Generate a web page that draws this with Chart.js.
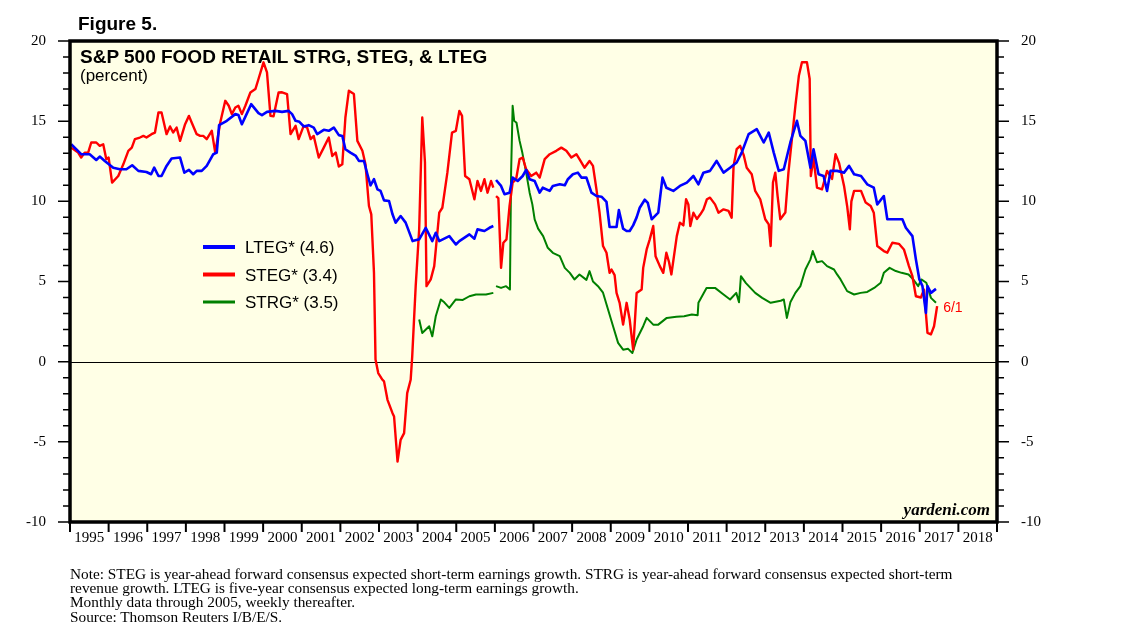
<!DOCTYPE html>
<html>
<head>
<meta charset="utf-8">
<script src="https://cdn.jsdelivr.net/npm/chart.js@4.4.1/dist/chart.umd.min.js"></script>
<style>
  html, body { margin: 0; padding: 0; background: #fff; }
  #wrap { position: relative; width: 1138px; height: 627px; overflow: hidden; }
  #chart { position: absolute; left: 0; top: 0; }
  .txt { position: absolute; white-space: nowrap; color: #000; line-height: 1; }
  #fig   { left: 78px; top: 13px; font: bold 19px "Liberation Sans", Arial, sans-serif; }
  #title { left: 80px; top: 46px; font: bold 19px "Liberation Sans", Arial, sans-serif; }
  #unit  { left: 80px; top: 66px; font: 17px "Liberation Sans", Arial, sans-serif; }
  #notes { left: 70px; top: 567px; font: 15.3px "Liberation Serif", "Times New Roman", serif; line-height: 14.2px; }
</style>
</head>
<body>
<div id="wrap">
  <canvas id="chart" width="1138" height="627"></canvas>
  <div class="txt" id="fig">Figure 5.</div>
  <div class="txt" id="title">S&amp;P 500 FOOD RETAIL STRG, STEG, &amp; LTEG</div>
  <div class="txt" id="unit">(percent)</div>
  <div class="txt" id="notes">Note: STEG is year-ahead forward consensus expected short-term earnings growth. STRG is year-ahead forward consensus expected short-term<br>revenue growth. LTEG is five-year consensus expected long-term earnings growth.<br>Monthly data through 2005, weekly thereafter.<br>Source: Thomson Reuters I/B/E/S.</div>
</div>
<script>
// valeurs (annee decimale, pourcentage)
const ltegYears = [1995.03,1995.29,1995.51,1995.68,1995.77,1995.90,1996.12,1996.29,1996.46,1996.61,1996.77,1996.98,1997.10,1997.18,1997.29,1997.37,1997.50,1997.63,1997.85,1997.96,1998.08,1998.19,1998.28,1998.41,1998.54,1998.71,1998.80,1998.86,1999.06,1999.28,1999.36,1999.45,1999.55,1999.69,1999.88,1999.97,2000.10,2000.32,2000.49,2000.66,2000.75,2000.84,2000.94,2001.05,2001.18,2001.31,2001.40,2001.57,2001.70,2001.83,2001.96,2002.05,2002.13,2002.26,2002.40,2002.48,2002.61,2002.70,2002.78,2002.87,2002.96,2003.04,2003.13,2003.26,2003.35,2003.43,2003.56,2003.69,2003.87,2004.04,2004.21,2004.38,2004.47,2004.56,2004.82,2004.99,2005.08,2005.34,2005.47,2005.55,2005.73,2005.86,2005.96,2006.00,2006.03,2006.16,2006.25,2006.38,2006.46,2006.59,2006.72,2006.81,2006.90,2007.03,2007.16,2007.24,2007.42,2007.50,2007.68,2007.81,2007.89,2008.02,2008.15,2008.24,2008.37,2008.50,2008.63,2008.76,2008.89,2008.97,2009.15,2009.21,2009.32,2009.41,2009.49,2009.58,2009.67,2009.75,2009.88,2009.96,2010.06,2010.23,2010.34,2010.44,2010.62,2010.79,2010.97,2011.14,2011.27,2011.40,2011.57,2011.74,2011.92,2012.09,2012.26,2012.39,2012.57,2012.78,2012.96,2013.09,2013.22,2013.35,2013.48,2013.65,2013.82,2013.91,2014.04,2014.17,2014.25,2014.38,2014.51,2014.60,2014.69,2014.86,2015.04,2015.17,2015.30,2015.48,2015.64,2015.81,2015.90,2016.07,2016.16,2016.33,2016.55,2016.64,2016.81,2016.90,2016.99,2017.07,2017.16,2017.20,2017.29,2017.42];
const ltegValues = [13.56,12.94,12.94,12.58,12.79,12.52,12.10,12.00,12.00,12.25,11.90,11.83,11.69,12.10,11.58,11.58,12.21,12.67,12.73,11.79,11.96,11.69,11.90,11.90,12.21,12.94,13.04,14.75,15.02,15.44,15.38,14.81,15.33,16.06,15.50,15.38,15.58,15.64,15.58,15.64,15.44,15.02,14.96,14.67,14.75,14.60,14.19,14.46,14.40,14.60,14.13,14.08,13.25,13.04,12.83,12.52,12.52,11.69,11.00,11.38,10.75,10.65,10.06,10.02,9.19,8.67,9.08,8.67,7.52,7.63,8.35,7.52,8.04,7.52,7.83,7.31,7.52,7.94,7.67,8.25,8.15,8.35,8.46,null,11.33,10.96,10.44,10.54,11.48,11.27,11.58,11.96,11.38,11.27,10.54,10.85,10.65,10.96,11.06,11.00,11.38,11.69,11.79,11.48,11.48,10.54,10.33,10.29,9.96,8.40,8.40,9.45,8.30,8.15,8.15,8.50,9.00,9.60,10.10,9.90,8.88,9.30,11.48,10.85,10.65,10.96,11.17,11.58,11.06,11.79,11.90,12.52,11.79,12.10,12.42,13.04,14.19,14.50,13.67,14.29,13.04,11.90,12.00,13.67,15.02,14.08,13.77,12.10,13.25,11.69,11.58,10.65,11.90,11.90,11.79,12.21,11.69,11.58,11.06,10.85,9.81,10.33,8.88,8.88,8.88,8.35,7.83,6.38,5.13,4.71,3.04,4.71,4.29,4.54];

const stegYears = [1995.03,1995.21,1995.29,1995.38,1995.47,1995.55,1995.68,1995.77,1995.86,1995.94,1996.00,1996.09,1996.25,1996.38,1996.51,1996.60,1996.68,1996.81,1996.90,1996.98,1997.11,1997.20,1997.29,1997.37,1997.50,1997.59,1997.67,1997.76,1997.85,1997.98,1998.08,1998.15,1998.28,1998.37,1998.45,1998.54,1998.67,1998.76,1998.89,1999.02,1999.11,1999.19,1999.28,1999.36,1999.45,1999.54,1999.67,1999.80,1999.88,2000.01,2000.10,2000.19,2000.27,2000.40,2000.49,2000.62,2000.71,2000.84,2000.92,2001.05,2001.14,2001.23,2001.31,2001.44,2001.57,2001.70,2001.79,2001.88,2001.96,2002.05,2002.13,2002.22,2002.35,2002.44,2002.57,2002.65,2002.74,2002.80,2002.87,2002.91,2002.98,2003.09,2003.13,2003.22,2003.35,2003.39,2003.48,2003.56,2003.65,2003.73,2003.82,2003.86,2003.95,2004.04,2004.12,2004.19,2004.23,2004.34,2004.43,2004.56,2004.64,2004.77,2004.89,2004.99,2005.08,2005.15,2005.23,2005.34,2005.47,2005.55,2005.64,2005.73,2005.81,2005.90,2005.96,2006.00,2006.03,2006.09,2006.16,2006.22,2006.30,2006.38,2006.46,2006.55,2006.64,2006.72,2006.81,2006.94,2007.07,2007.16,2007.29,2007.42,2007.59,2007.72,2007.85,2007.98,2008.11,2008.19,2008.32,2008.45,2008.54,2008.63,2008.71,2008.80,2008.89,2008.97,2009.02,2009.10,2009.15,2009.23,2009.32,2009.41,2009.49,2009.58,2009.67,2009.80,2009.84,2009.93,2010.01,2010.10,2010.16,2010.27,2010.36,2010.44,2010.51,2010.57,2010.71,2010.79,2010.88,2010.95,2011.01,2011.06,2011.14,2011.23,2011.32,2011.40,2011.49,2011.57,2011.70,2011.79,2011.92,2012.05,2012.13,2012.18,2012.26,2012.35,2012.44,2012.52,2012.65,2012.74,2012.87,2013.00,2013.09,2013.14,2013.20,2013.26,2013.32,2013.39,2013.52,2013.60,2013.69,2013.78,2013.87,2013.95,2014.08,2014.15,2014.18,2014.25,2014.34,2014.47,2014.60,2014.73,2014.82,2014.91,2015.04,2015.12,2015.19,2015.23,2015.30,2015.48,2015.60,2015.73,2015.81,2015.90,2016.07,2016.16,2016.29,2016.46,2016.59,2016.72,2016.81,2016.90,2017.03,2017.11,2017.20,2017.29,2017.37,2017.45];
const stegValues = [13.35,13.04,12.73,13.04,13.04,13.67,13.67,13.46,13.56,12.63,12.73,11.17,11.58,12.31,13.15,13.35,13.88,13.98,14.08,13.98,14.19,14.29,15.54,15.54,14.19,14.67,14.29,14.60,13.77,14.81,15.33,14.92,14.19,14.08,14.08,13.88,14.40,13.04,14.92,16.27,15.96,15.44,15.85,15.96,15.44,15.96,16.79,17.00,17.63,18.67,18.04,15.33,15.30,16.79,16.80,16.69,14.19,14.71,13.88,14.71,14.60,13.88,14.08,12.73,13.35,13.98,12.83,13.04,12.17,12.31,15.23,16.90,16.69,13.77,13.15,12.31,9.71,9.19,5.54,0.13,-0.71,-1.13,-1.23,-2.38,-3.21,-3.42,-6.23,-4.88,-4.46,-1.96,-1.13,0.33,4.71,8.25,15.23,12.42,4.71,5.13,5.96,9.29,9.60,11.79,14.29,14.40,15.64,15.33,11.58,11.38,10.13,11.27,10.65,11.38,10.54,11.27,10.85,null,10.33,10.20,5.85,7.42,7.63,9.71,11.17,11.38,12.63,12.73,12.00,11.58,11.79,11.48,12.63,12.94,13.15,13.35,13.15,12.73,12.94,12.63,12.10,12.52,12.21,10.75,9.29,7.21,6.79,5.54,5.75,5.40,4.29,3.67,2.31,3.67,2.63,0.75,4.29,4.50,5.85,7.00,7.63,8.46,6.58,5.96,5.54,6.79,6.20,5.44,7.83,8.67,8.50,10.13,9.80,8.46,9.29,8.90,9.19,9.50,10.13,10.23,9.81,9.29,9.50,9.40,8.98,12.21,13.25,13.46,12.90,12.10,11.69,10.65,10.13,8.88,8.56,7.21,11.17,11.79,10.33,8.88,9.30,11.79,13.88,15.96,17.83,18.67,18.67,17.63,11.58,12.70,10.85,10.75,11.90,11.40,12.94,12.40,10.96,9.71,8.25,10.00,10.65,10.65,9.92,9.71,9.29,7.21,6.90,6.80,7.42,7.35,7.00,5.96,5.33,4.08,4.00,4.50,1.79,1.70,2.21,3.46];

const strgYears = [2004.04,2004.12,2004.30,2004.38,2004.47,2004.60,2004.69,2004.82,2004.99,2005.17,2005.34,2005.51,2005.77,2005.96,2006.00,2006.03,2006.16,2006.29,2006.39,2006.42,2006.46,2006.50,2006.56,2006.64,2006.71,2006.81,2006.90,2006.97,2007.03,2007.12,2007.25,2007.37,2007.50,2007.68,2007.81,2007.94,2008.06,2008.19,2008.37,2008.45,2008.54,2008.67,2008.80,2008.93,2009.06,2009.19,2009.32,2009.45,2009.56,2009.67,2009.84,2009.93,2010.10,2010.23,2010.45,2010.70,2010.90,2011.10,2011.25,2011.27,2011.48,2011.70,2011.92,2012.09,2012.25,2012.32,2012.37,2012.50,2012.74,2012.92,2013.14,2013.40,2013.48,2013.56,2013.65,2013.78,2013.91,2014.04,2014.17,2014.23,2014.34,2014.47,2014.60,2014.78,2014.86,2014.95,2015.12,2015.30,2015.47,2015.64,2015.82,2015.99,2016.07,2016.22,2016.38,2016.53,2016.71,2016.83,2016.96,2017.04,2017.17,2017.29,2017.42];
const strgValues = [2.63,1.79,2.21,1.58,2.83,3.88,3.70,3.35,3.88,3.85,4.08,4.19,4.19,4.29,null,4.71,4.60,4.71,4.50,11.79,15.96,15.02,14.90,13.77,13.04,11.79,10.54,9.81,8.88,8.30,7.83,7.10,6.79,6.58,5.85,5.54,5.13,5.44,5.10,5.65,5.00,4.71,4.30,3.25,2.21,1.17,0.75,0.80,0.54,1.38,2.21,2.73,2.31,2.31,2.73,2.80,2.83,2.94,2.90,3.67,4.60,4.60,4.19,3.88,4.29,3.70,5.33,4.90,4.29,3.98,3.67,3.80,3.88,2.73,3.70,4.29,4.71,5.75,6.38,6.90,6.20,6.27,5.96,5.75,5.44,5.13,4.40,4.19,4.29,4.35,4.60,4.92,5.54,5.85,5.65,5.54,5.44,5.13,4.71,5.13,4.92,3.98,3.67];

const seriesLabels = ['LTEG* (4.6)', 'STEG* (3.4)', 'STRG* (3.5)'];
const seriesColors = ['#0000ff', '#ff0000', '#008000'];
const yearTicks = [1995,1996,1997,1998,1999,2000,2001,2002,2003,2004,2005,2006,2007,2008,2009,2010,2011,2012,2013,2014,2015,2016,2017,2018];
const yTicks = [-10, -5, 0, 5, 10, 15, 20];
const lastLabel = '6/1';

const points = (xs, ys) => xs.map((x, i) => ({ x: x, y: ys[i] }));
const serif = 'Liberation Serif, Times New Roman, serif';
const sans = 'Liberation Sans, Arial, sans-serif';

// fond jaune, bordure, graduations, legende
const decor = {
  id: 'decor',
  beforeDraw(chart) {
    const { ctx, chartArea: a } = chart;
    ctx.save();
    ctx.fillStyle = '#fff';
    ctx.fillRect(0, 0, chart.width, chart.height);
    ctx.fillStyle = '#ffffe6';
    ctx.fillRect(a.left, a.top, a.right - a.left, a.bottom - a.top);
    ctx.restore();
  },
  beforeDatasetsDraw(chart) {
    const { ctx, chartArea: a, scales } = chart;
    const y0 = Math.round(scales.y.getPixelForValue(0)) + 0.5;
    ctx.save();
    ctx.strokeStyle = '#000';
    ctx.lineWidth = 1.2;
    ctx.beginPath();
    ctx.moveTo(a.left, y0);
    ctx.lineTo(a.right, y0);
    ctx.stroke();
    ctx.restore();
  },
  afterDraw(chart) {
    const { ctx, chartArea: a, scales } = chart;
    ctx.save();
    ctx.strokeStyle = '#000';
    // graduations gauche et droite
    ctx.lineWidth = 1.5;
    for (let v = -10; v <= 20; v++) {
      const y = scales.y.getPixelForValue(v);
      const len = v % 5 === 0 ? 12 : 7;
      ctx.beginPath();
      ctx.moveTo(a.left - len, y); ctx.lineTo(a.left, y);
      ctx.moveTo(a.right, y); ctx.lineTo(a.right + len, y);
      ctx.stroke();
    }
    // graduations des annees
    ctx.lineWidth = 2;
    for (let yr = yearTicks[0]; yr <= yearTicks[yearTicks.length - 1] + 1; yr++) {
      const x = scales.x.getPixelForValue(yr);
      ctx.beginPath();
      ctx.moveTo(x, a.bottom); ctx.lineTo(x, a.bottom + 10);
      ctx.stroke();
    }
    // cadre epais
    ctx.lineWidth = 3.5;
    ctx.strokeRect(a.left, a.top, a.right - a.left, a.bottom - a.top);

    // legende
    const legendW = [4, 4, 3];
    chart.data.datasets.forEach((ds, i) => {
      const y = 247 + i * 27.5;
      ctx.strokeStyle = ds.borderColor;
      ctx.lineWidth = legendW[i];
      ctx.beginPath();
      ctx.moveTo(203, y); ctx.lineTo(235, y);
      ctx.stroke();
      ctx.fillStyle = '#000';
      ctx.font = '17px ' + sans;
      ctx.textBaseline = 'alphabetic';
      ctx.fillText(ds.label, 245, y + 6);
    });

    // etiquette de fin de serie
    const meta = chart.getDatasetMeta(1);
    const last = meta.data[meta.data.length - 1];
    ctx.fillStyle = '#ff0000';
    ctx.font = '14px ' + sans;
    ctx.fillText(lastLabel, last.x + 6, last.y + 6);

    ctx.fillStyle = '#000';
    ctx.font = 'italic bold 17px ' + serif;
    ctx.textAlign = 'right';
    ctx.fillText('yardeni.com', a.right - 7, a.bottom - 7);
    ctx.restore();
  }
};

const yAxis = (pos, w) => ({
  type: 'linear',
  position: pos,
  min: -10,
  max: 20,
  afterFit: s => { s.width = w; },
  afterBuildTicks: s => { s.ticks = yTicks.map(v => ({ value: v })); },
  ticks: { callback: v => String(v), color: '#000', font: { family: serif, size: 15 }, padding: 16 },
  grid: { display: false },
  border: { display: false },
});

new Chart(document.getElementById('chart'), {
  type: 'line',
  data: {
    datasets: [
      { label: seriesLabels[0], data: points(ltegYears, ltegValues), borderColor: seriesColors[0], borderWidth: 2.6 },
      { label: seriesLabels[1], data: points(stegYears, stegValues), borderColor: seriesColors[1], borderWidth: 2.4 },
      { label: seriesLabels[2], data: points(strgYears, strgValues), borderColor: seriesColors[2], borderWidth: 2 },
    ],
  },
  options: {
    responsive: false,
    animation: false,
    spanGaps: false,
    layout: { padding: { top: 41 } },
    elements: { point: { radius: 0 }, line: { tension: 0, borderJoinStyle: 'round' } },
    plugins: { legend: { display: false }, tooltip: { enabled: false } },
    scales: {
      x: {
        type: 'linear',
        min: 1995,
        max: 2019,
        afterFit: s => { s.height = 105; },
        afterBuildTicks: s => { s.ticks = yearTicks.map(y => ({ value: y + 0.5 })); },
        ticks: { callback: v => String(Math.floor(v)), color: '#000', font: { family: serif, size: 15 }, padding: -1, maxRotation: 0, autoSkip: false },
        grid: { display: false },
        border: { display: false },
      },
      y: yAxis('left', 70),
      y2: yAxis('right', 141),
    },
  },
  plugins: [decor],
});
</script>
</body>
</html>
